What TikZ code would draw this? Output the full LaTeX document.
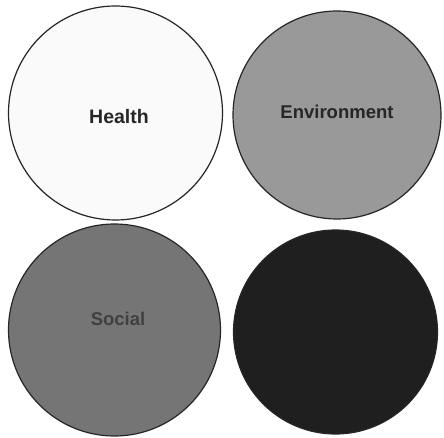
\documentclass[tikz,border=0pt]{standalone}
\usepackage{fontspec}
\setmainfont{Liberation Sans}
\definecolor{envgray}{gray}{0.6}
\definecolor{socgray}{gray}{0.46}
\definecolor{darkdisc}{gray}{0.12}
\begin{document}
\begin{tikzpicture}[x=1pt,y=-1pt,
  disc/.style={circle,draw=black!85,line width=1.2pt,minimum size=#1,inner sep=0pt},
  lbl/.style={font=\bfseries\fontsize{18.5}{20}\selectfont}]
\useasboundingbox (0,0) rectangle (444,438);
\fill[white] (0,0) rectangle (444,438);
\node[disc=214pt,fill=gray!4] (health) at (115.5,113) {};
\node[disc=208pt,fill=envgray] (env) at (337,115) {};
\node[disc=212pt,fill=socgray] (social) at (114.5,330) {};
\node[disc=204pt,fill=darkdisc] (other) at (335.5,332) {};
\node[lbl,text=black!85,font=\bfseries\fontsize{19.5}{21}\selectfont] (thealth) at (119,117) {Health};
\node[lbl,text=black!85] (tenv) at (337,112) {Environment};
\node[lbl,text=black!75] (tsocial) at (118,319) {Social};
\end{tikzpicture}
\end{document}
